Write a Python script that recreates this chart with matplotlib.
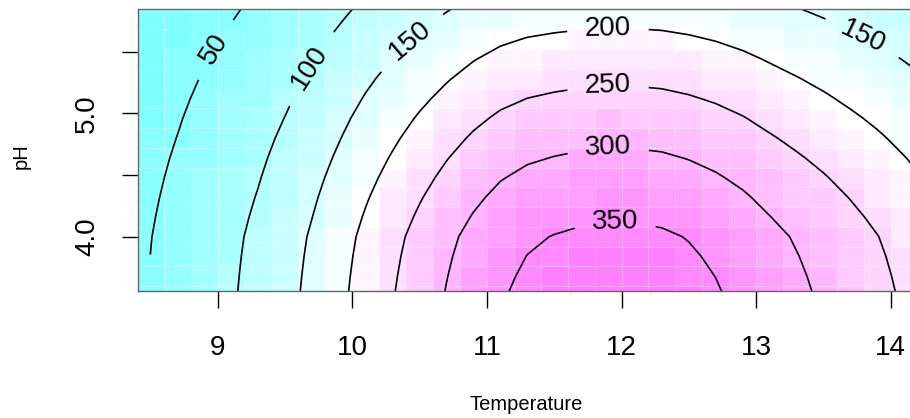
import matplotlib
matplotlib.use("Agg")
import matplotlib.pyplot as plt
import numpy as np
from matplotlib.colors import LinearSegmentedColormap, ListedColormap

plt.rcParams['font.family'] = ['Liberation Sans', 'DejaVu Sans']

# response: temperature profile (at the lowest pH)
temperature = [8.5, 8.7, 8.9, 9.1, 9.3, 9.5, 9.7, 9.9, 10.1, 10.3,
               10.5, 10.7, 10.9, 11.1, 11.3, 11.5, 11.7, 11.9, 12.1, 12.3,
               12.5, 12.7, 12.9, 13.1, 13.3, 13.5, 13.7, 13.9, 14.1, 14.3]
temp_response = [51, 64, 79, 95, 113, 135, 160, 188, 218, 246,
                 274, 300, 324, 344, 357, 364, 369, 372, 371, 368,
                 361, 351, 338, 322, 307, 292, 276, 260, 243, 226]

# relative drop of the response with pH
ph = [3.52, 3.68, 3.84, 4.00, 4.16, 4.32, 4.48, 4.64,
      4.80, 4.96, 5.12, 5.28, 5.44, 5.60, 5.76, 5.92]
ph_factor = [1.008, 0.996, 0.982, 0.965, 0.934, 0.901, 0.865, 0.827,
             0.787, 0.745, 0.701, 0.657, 0.612, 0.565, 0.517, 0.472]

levels = [50, 100, 150, 200, 250, 300, 350]
xticks = [9, 10, 11, 12, 13, 14]
yticks = [4.0, 4.5, 5.0, 5.5]
yticklabels = ['4.0', '', '5.0', '']

Z = np.outer(ph_factor, temp_response)

# cyan - white - magenta, stepped like R's cm.colors
base = LinearSegmentedColormap.from_list('cm', ['#80FFFF', '#FFFFFF', '#FF80FF'])
cmap = ListedColormap(base(np.linspace(0, 1, 25)))

fig = plt.figure(figsize=(9.1, 4.18), dpi=100)
ax = fig.add_axes([0.15198, 0.30383, 0.85209, 0.67392])

ax.pcolormesh(temperature, ph, Z, cmap=cmap, shading='nearest',
              vmin=Z.min(), vmax=Z.max(),
              edgecolors=(1, 1, 1, 0.3), linewidth=0.4)

cs = ax.contour(temperature, ph, Z, levels=levels, colors='black', linewidths=1.2)
label_pos = [(9.02, 5.49), (9.71, 5.35), (10.43, 5.59), (11.90, 5.67),
             (11.90, 5.21), (11.90, 4.75), (11.95, 4.08), (13.78, 5.59)]
ax.clabel(cs, fmt='%d', fontsize=20, inline=True, inline_spacing=16,
          manual=label_pos)

ax.set_xlim(8.411, 14.17)
ax.set_ylim(3.560, 5.843)

ax.set_xticks(xticks)
ax.set_xticklabels([str(t) for t in xticks])
ax.set_yticks(yticks)
ax.set_yticklabels(yticklabels, rotation=90, va='center')
ax.tick_params(axis='x', direction='out', length=12, width=1, labelsize=20, pad=20)
ax.tick_params(axis='y', direction='out', length=11.5, width=1, labelsize=20, pad=16)

for s in ['left', 'bottom', 'top']:
    ax.spines[s].set_color('#666666')
    ax.spines[s].set_linewidth(1)
ax.spines['right'].set_visible(False)

fig.text(526 / 910, 1 - 404 / 418, 'Temperature', ha='center', va='center', fontsize=14.5)
fig.text(21 / 910, 1 - 156 / 418, 'pH', ha='center', va='center', rotation=90, fontsize=14.5)

fig.savefig('out.png', dpi=100)
